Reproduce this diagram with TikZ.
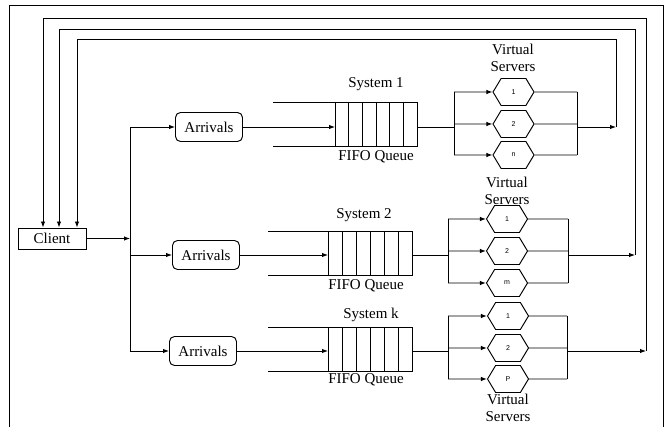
\documentclass[tikz,border=0pt]{standalone}
\usepackage{fontspec}
\setmainfont{Liberation Serif}
\setsansfont{Liberation Sans}
\usepackage{tikz}
\usetikzlibrary{arrows.meta,positioning,shapes.symbols}

\tikzset{
  lbl/.style={inner sep=0pt, align=center},
  arrbox/.style={draw, rounded corners=5pt, minimum width=67pt, minimum height=29pt, inner sep=0pt},
  clientbox/.style={draw, minimum width=68pt, minimum height=21pt, inner sep=0pt},
  vserver/.style={draw, shape=signal, signal to=west and east, signal pointer angle=118,
    minimum width=41pt, minimum height=27pt, inner sep=0pt, font=\sffamily\fontsize{7}{8}\selectfont},
  flow/.style={-{Latex[length=6pt,width=4.5pt]}},
}

\begin{document}
\begin{tikzpicture}[x=1pt, y=-1pt, line width=0.95pt, font=\fontsize{15}{17}\selectfont]
    \useasboundingbox (0,0) rectangle (667,427);
    % outer frame
    \draw (9,430) -- (9,5) -- (663,5) -- (663,430);

    % client and the bus to the arrivals
    \node[clientbox] (client) at (52,238.5) {Client};
    \coordinate (bus) at (130,238.5);
    \coordinate (bus1) at (130,127);
    \coordinate (bus2) at (130,255);
    \coordinate (bus3) at (130,351);
    \draw[flow] (client) -- (bus);
    \draw (bus1) -- (bus3);

    % system 1
    \node[arrbox] (arr1) at (209,127) {Arrivals};
    \draw[flow] (bus1) -- (arr1);
    \draw (273,102) -- (417,102) -- (417,146) -- (273,146);
    \foreach \i in {0,...,5} \draw ({335+\i*13.67},102) -- ++(0,44);
    \coordinate (q1in) at (335,127);
    \coordinate (q1out) at (417,127);
    \draw[flow] (arr1) -- (q1in);
    \node[lbl] (sys1) at (376,84) {System 1};
    \node[lbl] (fifo1) at (376,157) {FIFO Queue};
    \node[lbl] (vs1) at (513,58) {Virtual\\Servers};
    \node[vserver] (s11) at (513.5,92) {1};
    \node[vserver] (s12) at (513.5,124) {2};
    \node[vserver] (s13) at (513.5,155) {n};
    \draw (q1out) -- (454,127);
    \draw (454,92) -- (454,155);
    \draw (577,92) -- (577,155);
    \foreach \s in {s11,s12,s13} {
      \draw[flow] (454,0 |- \s) -- (\s);
      \draw (\s) -- (577,0 |- \s);
    }
    \coordinate (fbC) at (616,127);
    \draw[flow] (577,127) -- (fbC);

    % system 2
    \node[arrbox] (arr2) at (206,255) {Arrivals};
    \draw[flow] (bus2) -- (arr2);
    \draw (268,231) -- (412,231) -- (412,275) -- (268,275);
    \foreach \i in {0,...,5} \draw ({328+\i*14},231) -- ++(0,44);
    \coordinate (q2in) at (328,255);
    \coordinate (q2out) at (412,255);
    \draw[flow] (arr2) -- (q2in);
    \node[lbl] (sys2) at (364,215) {System 2};
    \node[lbl] (fifo2) at (366,286) {FIFO Queue};
    \node[lbl] (vs2) at (507,191) {Virtual\\Servers};
    \node[vserver] (s21) at (507,219) {1};
    \node[vserver] (s22) at (507,251) {2};
    \node[vserver] (s23) at (507,283) {m};
    \draw (q2out) -- (448,255);
    \draw (448,219) -- (448,283);
    \draw (568,219) -- (568,283);
    \foreach \s in {s21,s22,s23} {
      \draw[flow] (448,0 |- \s) -- (\s);
      \draw (\s) -- (568,0 |- \s);
    }
    \coordinate (fbB) at (635,255);
    \draw[flow] (568,255) -- (fbB);

    % system k
    \node[arrbox] (arr3) at (203,351) {Arrivals};
    \draw[flow] (bus3) -- (arr3);
    \draw (268,327) -- (412,327) -- (412,371) -- (268,371);
    \foreach \i in {0,...,5} \draw ({328+\i*14},327) -- ++(0,44);
    \coordinate (q3in) at (328,351);
    \coordinate (q3out) at (412,351);
    \draw[flow] (arr3) -- (q3in);
    \node[lbl] (sys3) at (371,315) {System k};
    \node[lbl] (fifo3) at (366,380) {FIFO Queue};
    \node[lbl] (vs3) at (508,407.5) {Virtual\\Servers};
    \node[vserver] (s31) at (508,316) {1};
    \node[vserver] (s32) at (508,348) {2};
    \node[vserver] (s33) at (508,379) {P};
    \draw (q3out) -- (448,351);
    \draw (448,316) -- (448,379);
    \draw (567,316) -- (567,379);
    \foreach \s in {s31,s32,s33} {
      \draw[flow] (448,0 |- \s) -- (\s);
      \draw (\s) -- (567,0 |- \s);
    }
    \coordinate (fbA) at (646,351);
    \draw[flow] (567,351) -- (fbA);

    % feedback to the client
    \draw[flow] (fbA) |- (43,18) -- (43,0 |- client.north);
    \draw[flow] (fbB) |- (59,29) -- (59,0 |- client.north);
    \draw[flow] (fbC) |- (77,39) -- (77,0 |- client.north);
\end{tikzpicture}
\end{document}
